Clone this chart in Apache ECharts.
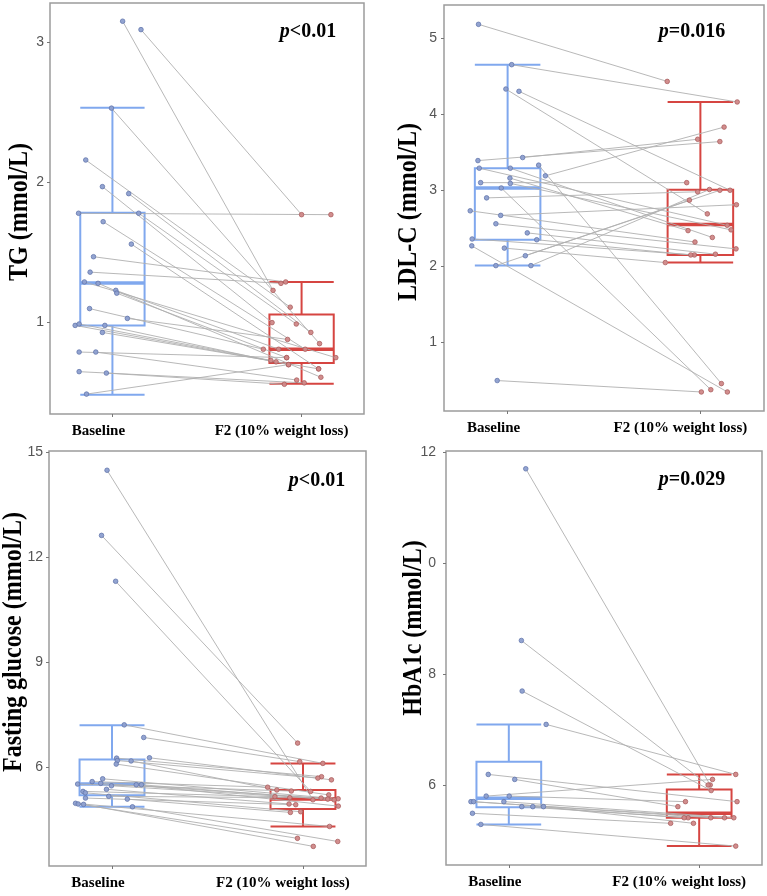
<!DOCTYPE html>
<html><head><meta charset="utf-8">
<script src="https://cdn.jsdelivr.net/npm/echarts@6/dist/echarts.min.js"></script>
<style>html,body{margin:0;padding:0;background:#fff}#c{width:767px;height:896px}</style>
</head><body><div id="c"></div>
<script>
const categories = ['Baseline', 'F2 (10% weight loss)'];

// TG (mmol/L)
const tgBaseline = [3.15,3.09,2.53,2.16,1.97,1.92,1.78,1.78,1.72,1.56,1.47,1.36,1.29,1.28,1.23,1.21,1.10,1.03,0.98,0.99,0.98,0.93,0.79,0.79,0.65,0.64,0.49];
const tgBaselineJitter = [0.054,0.151,-0.005,-0.141,-0.053,0.086,-0.179,0.139,-0.049,0.1,-0.1,-0.118,-0.148,-0.076,0.018,0.023,-0.121,0.079,-0.197,-0.176,-0.04,-0.053,-0.176,-0.088,-0.176,-0.032,-0.137];
const tgF2 = [1.23,1.77,0.85,1.11,1.00,0.93,1.77,0.99,0.81,0.67,1.29,1.28,0.75,0.61,0.81,0.75,0.81,0.88,0.72,0.73,0.70,0.67,0.75,0.59,0.57,0.56,0.70];
const tgF2Jitter = [-0.151,0,0.095,-0.06,-0.156,0.049,0.155,-0.028,0.019,0.09,-0.084,-0.109,0.181,0.102,-0.121,-0.079,-0.202,-0.074,-0.135,-0.162,-0.069,0.09,-0.079,-0.026,0.014,-0.091,-0.069];
const tgBoxBaseline = [0.486,0.98,1.283,1.783,2.533];
const tgBoxF2 = [0.564,0.711,0.81,1.057,1.29];
const tgTicks = [1,2,3];
const tgTickLabels = ['1','2','3'];

// LDL-C (mmol/L)
const ldlBaseline = [5.18,4.65,4.33,4.30,3.39,3.43,3.29,3.29,3.33,3.19,3.16,3.10,3.09,3.03,2.90,2.73,2.67,2.56,2.44,2.36,2.35,2.27,2.24,2.14,2.01,2.01,0.50];
const ldlBaselineJitter = [-0.151,0.021,-0.009,0.059,-0.154,0.078,-0.147,0.014,0.161,0.196,0.012,-0.14,0.014,-0.033,-0.109,-0.194,-0.036,-0.061,0.102,-0.184,0.151,-0.186,-0.017,0.092,-0.061,0.121,-0.054];
const ldlF2 = [4.43,4.16,2.69,3.00,3.64,3.67,2.54,2.38,0.46,3.83,2.47,3.10,2.48,0.38,2.98,2.32,2.81,2.23,2.16,2.15,2.15,0.35,2.05,3.00,2.87,3.01,0.35];
const ldlF2Jitter = [-0.172,0.191,0.036,0.154,0.101,-0.014,0.139,0.062,0.109,0.123,-0.064,-0.071,0.159,0.054,-0.014,-0.028,0.187,0.185,0.078,-0.031,-0.05,0.14,-0.182,0.101,-0.057,0.047,0.005];
const ldlBoxBaseline = [2.01,2.35,3.03,3.29,4.65];
const ldlBoxF2 = [2.05,2.15,2.55,3.006,4.16];
const ldlTicks = [1,2,3,4,5];
const ldlTickLabels = ['1','2','3','4','5'];

// Fasting glucose (mmol/L)
const fgBaseline = [14.49,12.63,11.32,7.22,6.86,6.28,6.27,6.20,6.19,6.10,5.68,5.60,5.53,5.55,5.48,5.51,5.51,5.38,5.32,5.28,5.18,5.13,5.10,4.98,4.96,4.95,4.88];
const fgBaselineJitter = [-0.026,-0.055,0.019,0.064,0.166,0.196,0.024,0.028,0.1,0.022,-0.049,-0.104,-0.18,-0.059,-0.003,0.127,0.154,-0.029,-0.152,-0.14,-0.017,-0.139,0.08,-0.191,-0.177,-0.149,0.107];
const fgF2 = [5.08,6.70,5.32,6.12,6.17,5.65,5.74,5.70,5.36,5.22,5.11,5.44,5.33,5.13,5.10,4.90,5.08,4.96,5.17,4.74,5.14,4.94,4.72,4.32,3.98,3.75,3.89];
const fgF2Jitter = [0.052,-0.028,0.04,0.104,-0.017,0.149,0.097,0.078,-0.137,0.135,0.184,-0.185,-0.061,0.095,0.13,0.185,0.163,-0.073,-0.147,-0.012,-0.069,-0.038,-0.066,0.139,-0.029,0.054,0.182];
const fgBoxBaseline = [4.88,5.21,5.53,6.23,7.21];
const fgBoxF2 = [4.32,4.82,5.10,5.36,6.12];
const fgTicks = [6,9,12,15];
const fgTickLabels = ['6','9','12','15'];

// HbA1c
const hbBaseline = [11.70,8.61,7.70,7.10,6.20,6.11,5.81,5.81,5.71,5.71,5.71,5.62,5.62,5.62,5.50,5.30];
const hbBaselineJitter = [0.089,0.066,0.07,0.196,-0.108,0.031,-0.119,0.002,-0.026,-0.199,-0.185,0.068,0.126,0.182,-0.191,-0.147];
const hbF2 = [6.01,6.01,5.91,6.20,5.71,5.62,6.11,5.71,5.42,5.42,5.42,5.42,5.42,5.32,5.32,4.91];
const hbF2Jitter = [0.058,0.047,0.063,0.192,0.199,-0.112,0.07,-0.072,0.182,0.133,0.061,-0.058,-0.079,-0.03,-0.15,0.192];
const hbBoxBaseline = [5.30,5.61,5.77,6.43,7.10];
const hbBoxF2 = [4.91,5.42,5.50,5.93,6.20];
const hbTicks = [6,8,10,12];
const hbTickLabels = ['6','8','0','12'];

const panels = [
  {title:'TG (mmol/L)', p:'<0.01', base:tgBaseline, bj:tgBaselineJitter, f2:tgF2, fj:tgF2Jitter, bb:tgBoxBaseline, bf:tgBoxF2, ticks:tgTicks, labels:tgTickLabels, min:0.348, max:3.28,
   grid:{left:50, top:3, width:314, height:411}, tx:20, ty:212, px:308, py:32, lm:6},
  {title:'LDL-C (mmol/L)', p:'=0.016', base:ldlBaseline, bj:ldlBaselineJitter, f2:ldlF2, fj:ldlF2Jitter, bb:ldlBoxBaseline, bf:ldlBoxF2, ticks:ldlTicks, labels:ldlTickLabels, min:0.10, max:5.434,
   grid:{left:444, top:5, width:320, height:406}, tx:409, ty:212, px:692, py:32, lm:7},
  {title:'Fasting glucose (mmol/L)', p:'<0.01', base:fgBaseline, bj:fgBaselineJitter, f2:fgF2, fj:fgF2Jitter, bb:fgBoxBaseline, bf:fgBoxF2, ticks:fgTicks, labels:fgTickLabels, min:3.19, max:15.04,
   grid:{left:49, top:451, width:317, height:415}, tx:14, ty:642, px:317, py:481, lm:6},
  {title:'HbA1c (mmol/L)', p:'=0.029', base:hbBaseline, bj:hbBaselineJitter, f2:hbF2, fj:hbF2Jitter, bb:hbBoxBaseline, bf:hbBoxF2, ticks:hbTicks, labels:hbTickLabels, min:4.57, max:12.02,
   grid:{left:446, top:451, width:316, height:414}, tx:414, ty:628, px:692, py:480, lm:10}
];

const BLUE = '#80a8ee', RED = '#d64541';
const SERIF = '"Liberation Serif","Times New Roman",serif';

function boxRender(params, api) {
  const x = api.value(0);
  const lo = api.value(1), q1 = api.value(2), med = api.value(3), q3 = api.value(4), hi = api.value(5);
  const color = x === 1 ? BLUE : RED;
  const w = api.size([0.34, 0])[0];
  const pLo = api.coord([x, lo]), pQ1 = api.coord([x, q1]), pM = api.coord([x, med]), pQ3 = api.coord([x, q3]), pHi = api.coord([x, hi]);
  const cx = pLo[0], l = cx - w / 2, r = cx + w / 2;
  const ln = (x1, y1, x2, y2, lw) => ({type:'line', shape:{x1, y1, x2, y2}, style:{stroke:color, lineWidth:lw || 2}});
  return {type:'group', children:[
    {type:'rect', shape:{x:l, y:pQ3[1], width:w, height:pQ1[1]-pQ3[1]}, style:{stroke:color, lineWidth:2, fill:'rgba(0,0,0,0)'}},
    ln(cx, pQ3[1], cx, pHi[1]), ln(cx, pQ1[1], cx, pLo[1]),
    ln(l, pHi[1], r, pHi[1]), ln(l, pLo[1], r, pLo[1]),
    ln(l, pM[1], r, pM[1], 3.5)
  ]};
}
function pairRender(params, api) {
  const a = api.coord([api.value(0), api.value(1)]);
  const b = api.coord([api.value(2), api.value(3)]);
  return {type:'line', shape:{x1:a[0], y1:a[1], x2:b[0], y2:b[1]}, style:{stroke:'#b0b0b0', lineWidth:0.9}};
}

const grids = [], xAxes = [], yAxes = [], series = [], graphics = [];
panels.forEach((P, i) => {
  grids.push(Object.assign({show:true, borderColor:'#9c9c9c', borderWidth:1.5, backgroundColor:'transparent'}, P.grid));
  xAxes.push({gridIndex:i, type:'value', min:0.67, max:2.33,
    splitLine:{show:false}, axisLine:{show:false},
    axisTick:{show:true, length:3, customValues:[1,2], lineStyle:{color:'#777'}},
    axisLabel:{customValues:[1,2], margin:10,
      formatter: v => v === 1 ? '{a|' + categories[0] + '}' : '{b|' + categories[1] + '}',
      rich:{
        a:{fontFamily:SERIF, fontWeight:'bold', fontSize:15, color:'#000', padding:[0,28,0,0]},
        b:{fontFamily:SERIF, fontWeight:'bold', fontSize:15, color:'#000', padding:[0,40,0,0]}
      }}
  });
  yAxes.push({gridIndex:i, type:'value', min:P.min, max:P.max,
    splitLine:{show:false}, axisLine:{show:false},
    axisTick:{show:true, length:3, customValues:P.ticks, lineStyle:{color:'#777'}},
    axisLabel:{customValues:P.ticks, margin:P.lm, color:'#555', fontSize:14, fontFamily:'"Liberation Sans",Arial,sans-serif',
      formatter: v => { const k = P.ticks.indexOf(v); return k >= 0 ? P.labels[k] : ''; }}
  });
  series.push({type:'custom', xAxisIndex:i, yAxisIndex:i, z:1, renderItem:boxRender, silent:true,
    data:[[1].concat(P.bb), [2].concat(P.bf)], encode:{x:0, y:[1,2,3,4,5]}});
  series.push({type:'custom', xAxisIndex:i, yAxisIndex:i, z:2, renderItem:pairRender, silent:true,
    data:P.base.map((v, k) => [1 + P.bj[k], v, 2 + P.fj[k], P.f2[k]]), encode:{x:[0,2], y:[1,3]}});
  series.push({type:'scatter', xAxisIndex:i, yAxisIndex:i, z:3, symbol:'circle', symbolSize:4.6, silent:true,
    itemStyle:{color:'#8d9fcf', borderColor:'#5f74aa', borderWidth:0.8, opacity:0.95},
    data:P.base.map((v, k) => [1 + P.bj[k], v])});
  series.push({type:'scatter', xAxisIndex:i, yAxisIndex:i, z:3, symbol:'circle', symbolSize:4.6, silent:true,
    itemStyle:{color:'#d08888', borderColor:'#a85a5a', borderWidth:0.8, opacity:0.95},
    data:P.f2.map((v, k) => [2 + P.fj[k], v])});
  graphics.push({type:'text', x:P.tx, y:P.ty, rotation:Math.PI/2, scaleY:1.12,
    style:{text:P.title, font:'bold 24px ' + SERIF, fill:'#000', textAlign:'center', textVerticalAlign:'middle'}});
  graphics.push({type:'text', x:P.px, y:P.py,
    style:{text:'{i|p}{n|' + P.p + '}', textAlign:'center', textVerticalAlign:'middle',
      rich:{i:{fontFamily:SERIF, fontStyle:'italic', fontWeight:'bold', fontSize:20, fill:'#000', color:'#000'},
            n:{fontFamily:SERIF, fontWeight:'bold', fontSize:20, fill:'#000', color:'#000'}}}});
});

const chart = echarts.init(document.getElementById('c'), null, {renderer:'canvas'});
chart.setOption({animation:false, backgroundColor:'#fff', grid:grids, xAxis:xAxes, yAxis:yAxes, series, graphic:graphics});
</script></body></html>
